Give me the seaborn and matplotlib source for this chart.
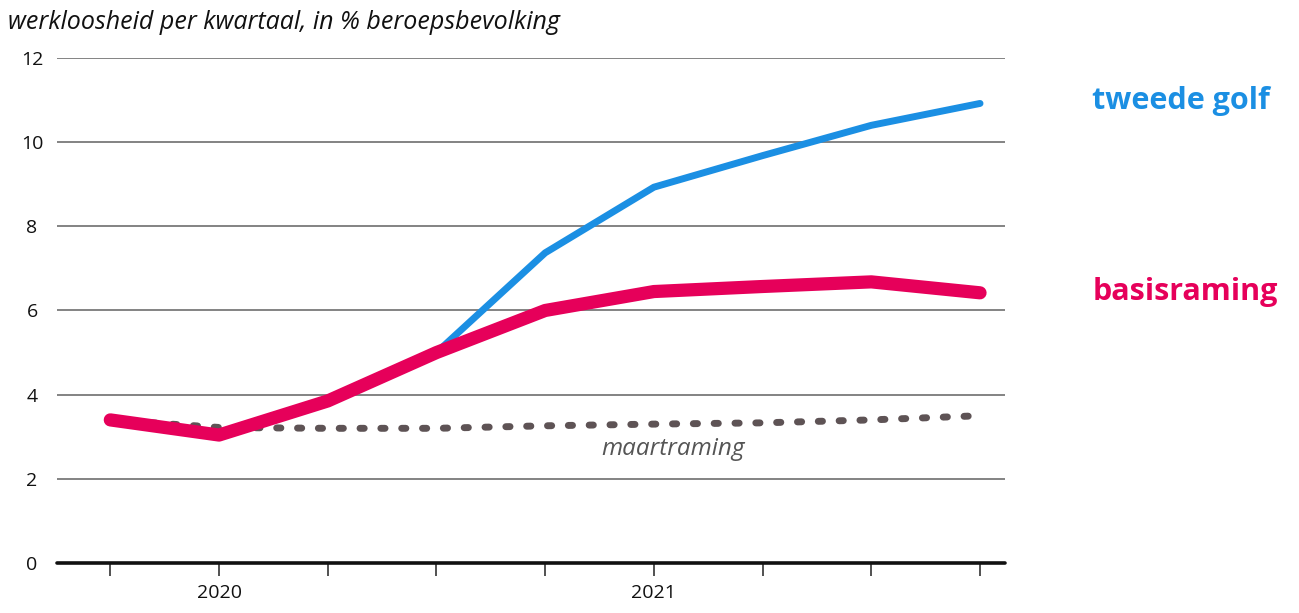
import numpy as np
import pandas as pd
import matplotlib.pyplot as plt
import seaborn as sns

# quarters 2019Q4 .. 2021Q4
kwartalen = ["2019K4", "2020K1", "2020K2", "2020K3", "2020K4",
             "2021K1", "2021K2", "2021K3", "2021K4"]
basisraming = [3.4, 3.04, 3.85, 5.0, 6.0, 6.45, 6.57, 6.68, 6.42]
tweede_golf = [None, None, None, 5.0, 7.37, 8.93, 9.68, 10.4, 10.92]
maartraming = [3.4, 3.22, 3.2, 3.2, 3.26, 3.3, 3.33, 3.4, 3.5]
jaar_labels = {1: "2020", 5: "2021"}

df = pd.DataFrame({
    "pos": np.arange(len(kwartalen)),
    "basis": basisraming,
    "tweede": pd.to_numeric(pd.Series(tweede_golf), errors="coerce"),
    "maart": maartraming,
})

sns.set_style("white")
plt.rcParams["font.family"] = ["Open Sans", "DejaVu Sans"]

fig = plt.figure(figsize=(12.99, 6.13), dpi=100)
ax = fig.add_axes([0.0439, 0.0816, 0.7298, 0.8238])

red = "#e6005a"
blue = "#1b8fe3"
grey = "#5e5355"

# gridlines
for y in [2, 4, 6, 8, 10, 12]:
    ax.axhline(y, color="#7a7a7a", lw=1.3, zorder=0)

sns.lineplot(data=df, x="pos", y="maart", ax=ax, color=grey, lw=5,
             zorder=2)
ax.lines[-1].set_dashes((0.6, 2.4))
ax.lines[-1].set_dash_capstyle("round")
sns.lineplot(data=df.dropna(), x="pos", y="tweede", ax=ax, color=blue,
             lw=5, zorder=3)
ax.lines[-1].set_solid_capstyle("round")
sns.lineplot(data=df, x="pos", y="basis", ax=ax, color=red, lw=9.5,
             zorder=4)
ax.lines[-1].set_solid_capstyle("round")
ax.lines[-1].set_solid_joinstyle("round")

ax.set_xlim(-0.49, 8.23)
ax.set_ylim(0, 12)
ax.axhline(0, color="#111111", lw=2.6, zorder=5, clip_on=False)

ax.set_xticks(df["pos"])
ax.set_xticklabels([jaar_labels.get(i, "") for i in df["pos"]],
                   fontsize=14, color="#111111")
ax.tick_params(axis="x", bottom=True, length=9, width=1.2,
               color="#333333", pad=6, direction="out")
ax.set_yticks([0, 2, 4, 6, 8, 10, 12])
ax.set_yticklabels(["0", "2", "4", "6", "8", "10", "12"], fontsize=14,
                   color="#111111")
for lbl in ax.get_yticklabels():
    lbl.set_horizontalalignment("center")
ax.tick_params(axis="y", left=False, length=0, pad=18)

sns.despine(ax=ax, left=True, right=True, top=True, bottom=True)
ax.set_xlabel("")
ax.set_ylabel("")

fig.text(0.006, 0.963, "werkloosheid per kwartaal, in % beroepsbevolking",
         fontsize=18, style="italic", color="#111111", va="center")
fig.text(0.841, 0.835, "tweede golf", fontsize=22, fontweight="bold",
         color=blue, va="center")
fig.text(0.841, 0.523, "basisraming", fontsize=22, fontweight="bold",
         color=red, va="center")
ax.text(4.52, 2.7, "maartraming", fontsize=17.5, style="italic",
        color="#555555", va="center")

fig.savefig("out.png", dpi=100)
